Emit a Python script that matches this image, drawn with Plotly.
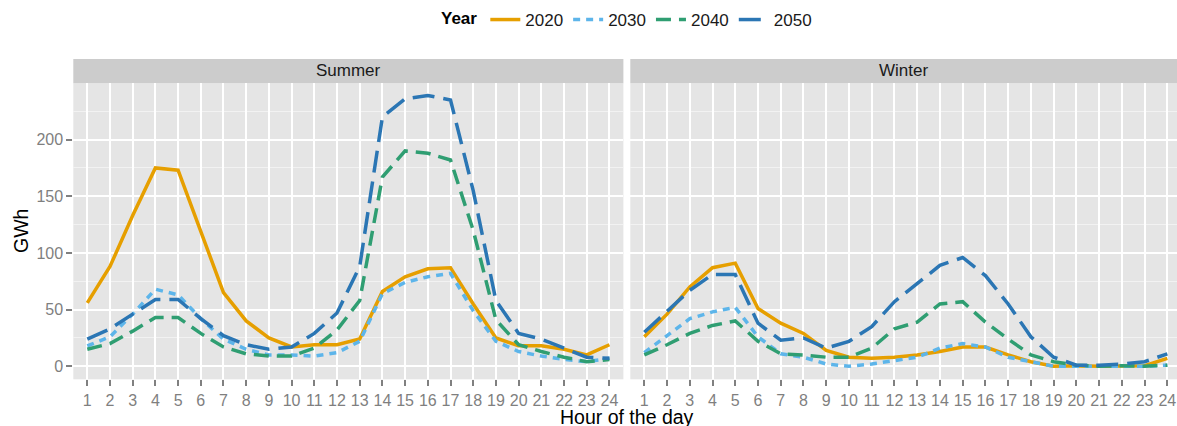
import plotly.graph_objects as go

hours = list(range(1, 25))
hour_labels = [str(h) for h in hours]
years = ["2020", "2030", "2040", "2050"]
seasons = ["Summer", "Winter"]

summer_2020 = [56, 88, 133, 175, 173, 118, 65, 40, 25, 17, 19, 19, 24, 66, 79, 86, 87, 55, 25, 18, 18, 15, 10, 19]
summer_2030 = [18, 26, 46, 68, 63, 42, 24, 15, 10, 10, 9, 12, 22, 64, 74, 79, 82, 49, 22, 13, 9, 6, 4, 7]
summer_2040 = [15, 20, 31, 43, 43, 29, 17, 11, 9, 9, 16, 32, 58, 167, 190, 188, 182, 120, 41, 19, 13, 8, 4, 6]
summer_2050 = [24, 33, 46, 59, 59, 42, 27, 19, 15, 17, 29, 47, 88, 220, 236, 239, 235, 155, 58, 29, 24, 16, 8, 7]

winter_2020 = [26, 46, 70, 87, 91, 51, 38, 29, 14, 8, 7, 8, 10, 13, 17, 17, 10, 4, 0, 0.5, 0, 0.5, 0.5, 7]
winter_2030 = [12, 27, 42, 48, 52, 26, 11, 8, 2, 0, 2, 5, 8, 16, 20, 17, 8, 4, 0, 0, 0, 0, 0, 1]
winter_2040 = [10, 19, 29, 36, 40, 22, 11, 10, 8, 8, 16, 33, 39, 55, 57, 39, 24, 10, 4, 1, 0, 0.5, 0, 1]
winter_2050 = [30, 48, 67, 81, 81, 38, 23, 25, 16, 22, 35, 57, 73, 89, 96, 80, 55, 26, 8, 1, 1, 2, 4, 11]

series = {
    "Summer": [summer_2020, summer_2030, summer_2040, summer_2050],
    "Winter": [winter_2020, winter_2030, winter_2040, winter_2050],
}

colors = ["#e69f00", "#5db5ea", "#2f9e72", "#2b76b4"]
dashes = ["solid", "7px,6px", "15px,8px", "22px,9px"]

W, H = 1177, 426
FONT = "Liberation Sans, Arial, sans-serif"

fig = go.Figure()
for si, season in enumerate(seasons):
    xa = "x" if si == 0 else "x2"
    ya = "y" if si == 0 else "y2"
    for yi, yr in enumerate(years):
        fig.add_trace(go.Scatter(
            x=hours, y=series[season][yi], mode="lines", name=yr,
            xaxis=xa, yaxis=ya, legendgroup=yr, showlegend=(si == 0),
            line=dict(color=colors[yi], width=3.5, dash=dashes[yi]),
        ))

# panel geometry (pixels)
left0, left1 = 73.3, 623.4
right0, right1 = 630.3, 1177
ptop, pbot = 83.3, 379.3
spacing = 22.74
pad = 14 / spacing


def px(x):
    return x / W


def py(y):
    return 1 - y / H


xcommon = dict(
    tickvals=hours, ticktext=hour_labels, showgrid=True, gridcolor="white", gridwidth=2,
    zeroline=False, ticks="outside", ticklen=6, tickwidth=2, tickcolor="#808080",
    tickfont=dict(family=FONT, size=16, color="#7f7f7f"), showline=False,
)
ycommon = dict(
    domain=[py(pbot), py(ptop)], range=[-11.5, 249.7], tickvals=[0, 50, 100, 150, 200],
    showgrid=True, gridcolor="white", gridwidth=2, zeroline=False,
    minor=dict(tickvals=[25, 75, 125, 175, 225], showgrid=True, gridcolor="#f2f2f2", gridwidth=1, ticks=""),
)
fig.update_layout(
    xaxis=dict(domain=[px(left0), px(left1)], anchor="y", range=[1 - pad, 24 + pad], **xcommon),
    xaxis2=dict(domain=[px(right0), px(right1)], anchor="y2",
                range=[1 - pad, 1 + (right1 - right0 - 14) / spacing], **xcommon),
    yaxis=dict(anchor="x", ticks="outside", ticklen=6, tickwidth=2, tickcolor="#808080",
               tickfont=dict(family=FONT, size=16, color="#7f7f7f"), **ycommon),
    yaxis2=dict(anchor="x2", matches="y", showticklabels=False, ticks="", **ycommon),
    plot_bgcolor="#e5e5e5",
    paper_bgcolor="white",
    width=W, height=H,
    margin=dict(l=0, r=0, t=0, b=0, autoexpand=False),
    font=dict(family=FONT, size=17, color="#1a1a1a"),
    legend=dict(orientation="h", x=px(628), xanchor="center", y=py(20), yanchor="middle",
                title=dict(text="<b>Year</b>", side="left", font=dict(family=FONT, size=17, color="black")),
                font=dict(family=FONT, size=17, color="#1a1a1a"), itemwidth=30, tracegroupgap=0),
)

for si, season in enumerate(seasons):
    xd = "x domain" if si == 0 else "x2 domain"
    fig.add_shape(type="rect", xref=xd, x0=0, x1=1, yref="paper", y0=py(ptop), y1=py(59),
                  fillcolor="#cccccc", line=dict(width=0), layer="below")
    fig.add_annotation(xref=xd, x=0.5, yref="paper", y=py(71), text=season, showarrow=False,
                       font=dict(family=FONT, size=17, color="#1a1a1a"), xanchor="center", yanchor="middle")

fig.add_annotation(xref="paper", x=px(627), yref="paper", y=py(417), text="Hour of the day", showarrow=False,
                   font=dict(family=FONT, size=19.5, color="black"), xanchor="center", yanchor="middle")
fig.add_annotation(xref="paper", x=px(21), yref="paper", y=py(231), text="GWh", showarrow=False, textangle=-90,
                   font=dict(family=FONT, size=19.5, color="black"), xanchor="center", yanchor="middle")

fig.write_html(
    "out.html",
    config={"displayModeBar": False},
    post_script="document.body.style.margin='0';document.body.style.overflow='hidden';",
)
